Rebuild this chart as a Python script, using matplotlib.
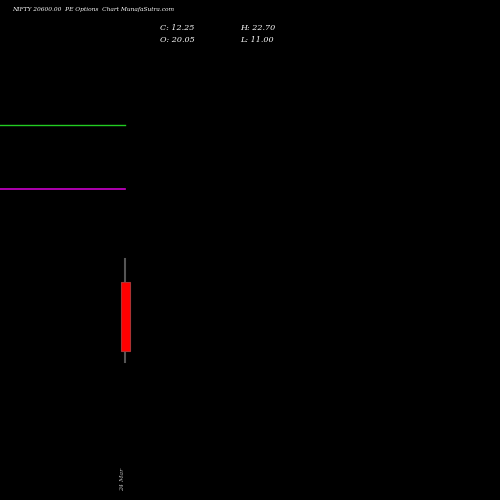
import matplotlib
matplotlib.use("Agg")
import matplotlib.pyplot as plt

dates = ["24 Mar"]
opens = [20.05]
highs = [22.70]
lows = [11.00]
closes = [12.25]
green_level = 37.9
magenta_level = 30.65

fig = plt.figure(figsize=(5, 5), dpi=100, facecolor="black")
ax = fig.add_axes([0, 0, 1, 1], facecolor="black")
ax.set_xlim(-125, 375)
ax.set_ylim(-4.68, 52.12)
ax.axis("off")

ax.plot([-125, 0], [green_level, green_level], color="#22cc22", lw=1)
ax.plot([-125, 0], [magenta_level, magenta_level], color="#cc00cc", lw=1.2)

for i, (o, h, l, c) in enumerate(zip(opens, highs, lows, closes)):
    x = i * 10
    ax.plot([x, x], [l, h], color="#555555", lw=1.5, zorder=1)
    ax.bar(x, abs(o - c), bottom=min(o, c), width=9, color="red" if c < o else "green",
           edgecolor="#aa3333", lw=0.8, zorder=2)
    ax.text(x - 2, -2.3, dates[i], rotation=90, color="#bbbbbb", fontsize=4.5,
            family="DejaVu Serif", style="italic", ha="center", va="center")

fs = 5.8
fig.text(0.025, 0.985, "NIFTY 20600.00  PE Options  Chart MunafaSutra.com", color="white",
         fontsize=4.2, family="DejaVu Serif", style="italic", va="top")
fig.text(0.32, 0.94, "C: 12.25", color="white", fontsize=fs, family="DejaVu Serif", style="italic")
fig.text(0.32, 0.928, "O: 20.05", color="white", fontsize=fs, family="DejaVu Serif", style="italic", va="top")
fig.text(0.48, 0.94, "H: 22.70", color="white", fontsize=fs, family="DejaVu Serif", style="italic")
fig.text(0.48, 0.928, "L: 11.00", color="white", fontsize=fs, family="DejaVu Serif", style="italic", va="top")

fig.savefig("out.png", facecolor="black")
